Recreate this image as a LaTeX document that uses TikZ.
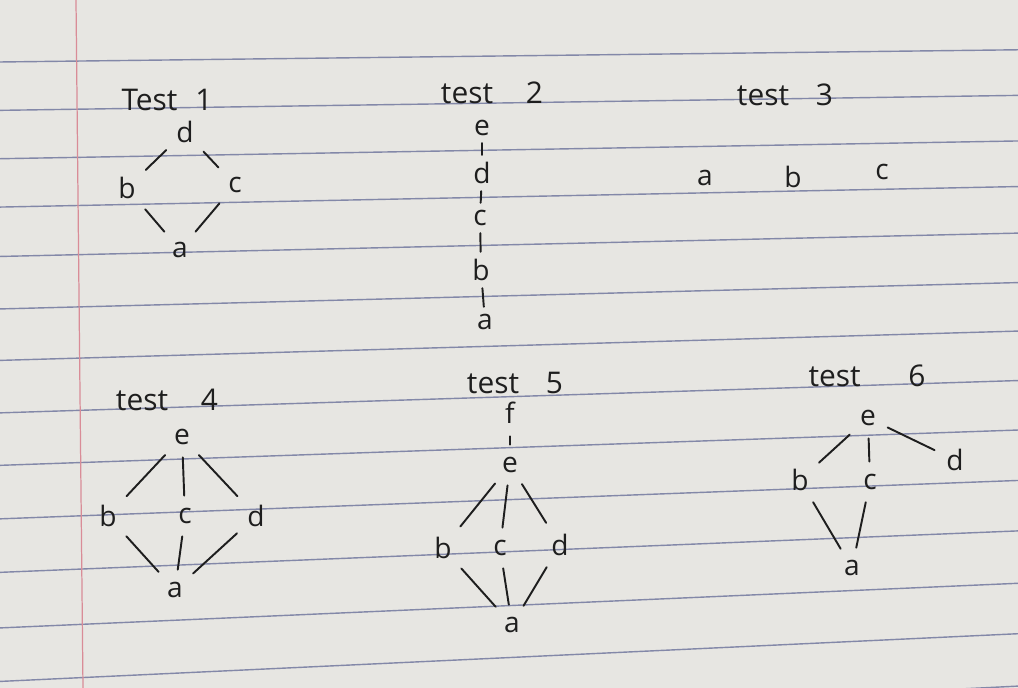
\documentclass[tikz,border=0pt]{standalone}
\usepackage{fontspec}
\setmainfont{Open Sans}
\usepackage{tikz}
\usetikzlibrary{positioning, calc}
\definecolor{nbPaper}{HTML}{E7E6E2}
\definecolor{nbRule}{HTML}{8388A8}
\definecolor{nbMargin}{HTML}{D98C97}
\definecolor{nbInk}{HTML}{1E1E1E}
\tikzset{
  elem/.style={
    inner sep=2pt,
    font=\fontsize{16}{18}\selectfont,
    text=nbInk
  },
  testlabel/.style={
    inner sep=1pt,
    font=\fontsize{17}{20}\selectfont,
    text=nbInk
  },
  cover/.style={
    draw=nbInk, line width=1.1pt, line cap=round,
    shorten <=5pt, shorten >=5pt
  },
  tick/.style={
    draw=nbInk, line width=1.1pt, line cap=round,
    shorten <=2pt, shorten >=2pt
  },
  ruling/.style={nbRule, line width=0.8pt},
  margin/.style={nbMargin, line width=0.7pt}
}

\begin{document}
\begin{tikzpicture}[x=0.02cm, y=-0.02cm]
  \fill[nbPaper] (0,0) rectangle (1018,688);
  \useasboundingbox (0,0) rectangle (1018,688);
  % ruled paper
  \foreach \yy in {56,103,150,197,245,296,346,397,448,500,552,606,658,712} {
    \pgfmathsetmacro\sl{0.012+(\yy-56)*0.035/604}
    \draw[ruling] (0,{\yy+500*\sl}) -- (1018,{\yy-518*\sl});
  }
  \draw[margin] (76,0) -- (83,688);

  % test 1
  \node[testlabel] (t1) at (167,100) {Test\hspace{0.6em}1};
  \node[elem] (t1d) at (185,132) {d};
  \node[elem] (t1b) at (127,188) {b};
  \node[elem] (t1c) at (235,185) {c};
  \node[elem] (t1a) at (180,250) {a};
  \draw[cover] (t1d) -- (t1b);
  \draw[cover] (t1d) -- (t1c);
  \draw[cover] (t1b) -- (t1a);
  \draw[cover] (t1c) -- (t1a);

  % test 2
  \node[testlabel] (t2) at (492,93) {test\hspace{1.1em}2};
  \node[elem] (t2e) at (482,128) {e};
  \node[elem] (t2d) at (482,173) {d};
  \node[elem] (t2c) at (480,218) {c};
  \node[elem] (t2b) at (481,270) {b};
  \node[elem] (t2a) at (485,322) {a};
  \draw[tick] (t2e) -- (t2d);
  \draw[tick] (t2d) -- (t2c);
  \draw[tick] (t2c) -- (t2b);
  \draw[tick] (t2b) -- (t2a);

  % test 3
  \node[testlabel] (t3) at (785,95) {test\hspace{0.9em}3};
  \node[elem] (t3a) at (705,178) {a};
  \node[elem] (t3b) at (793,177) {b};
  \node[elem] (t3c) at (882,172) {c};

  % test 4
  \node[testlabel] (t4) at (167,400) {test\hspace{1.1em}4};
  \node[elem] (t4e) at (182,437) {e};
  \node[elem] (t4b) at (108,516) {b};
  \node[elem] (t4c) at (185,516) {c};
  \node[elem] (t4d) at (256,516) {d};
  \node[elem] (t4a) at (175,590) {a};
  \draw[cover] (t4e) -- (t4b);
  \draw[cover] (t4e) -- (t4c);
  \draw[cover] (t4e) -- (t4d);
  \draw[cover] (t4b) -- (t4a);
  \draw[cover] (t4c) -- (t4a);
  \draw[cover] (t4d) -- (t4a);

  % test 5
  \node[testlabel] (t5) at (515,383) {test\hspace{0.9em}5};
  \node[elem] (t5f) at (510,413) {f};
  \node[elem] (t5e) at (510,465) {e};
  \node[elem] (t5b) at (443,548) {b};
  \node[elem] (t5c) at (500,548) {c};
  \node[elem] (t5d) at (560,545) {d};
  \node[elem] (t5a) at (512,625) {a};
  \draw[cover] (t5f) -- (t5e);
  \draw[cover] (t5e) -- (t5b);
  \draw[cover] (t5e) -- (t5c);
  \draw[cover] (t5e) -- (t5d);
  \draw[cover] (t5b) -- (t5a);
  \draw[cover] (t5c) -- (t5a);
  \draw[cover] (t5d) -- (t5a);

  % test 6
  \node[testlabel] (t6) at (867,376) {test\hspace{1.6em}6};
  \node[elem] (t6e) at (868,418) {e};
  \node[elem] (t6b) at (800,480) {b};
  \node[elem] (t6c) at (870,482) {c};
  \node[elem] (t6d) at (955,460) {d};
  \node[elem] (t6a) at (852,568) {a};
  \draw[cover] (t6e) -- (t6b);
  \draw[cover] (t6e) -- (t6c);
  \draw[cover] (t6e) -- (t6d);
  \draw[cover] (t6b) -- (t6a);
  \draw[cover] (t6c) -- (t6a);
\end{tikzpicture}
\end{document}
